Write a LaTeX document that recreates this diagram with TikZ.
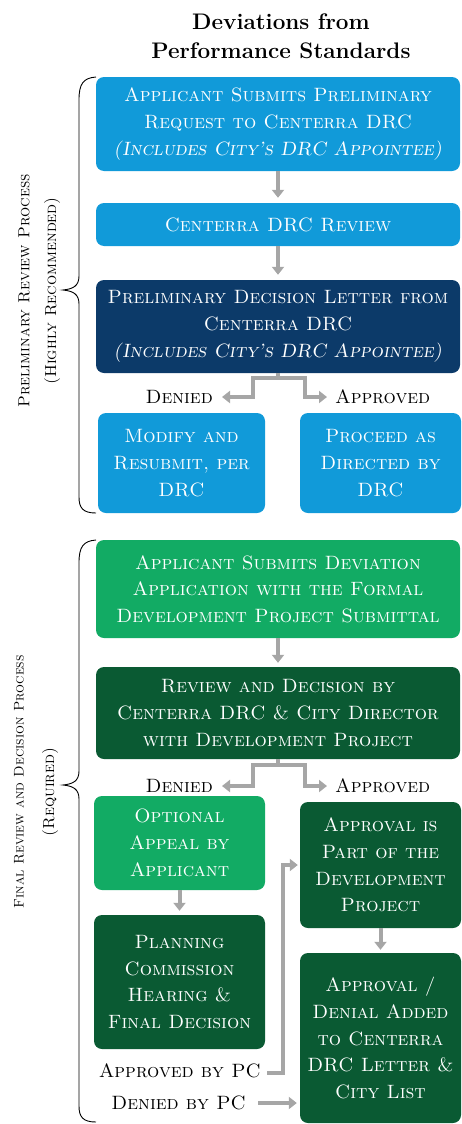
\documentclass[tikz,border=0pt]{standalone}
\usetikzlibrary{arrows.meta,calc}

\definecolor{skyblue}{HTML}{119AD9}
\definecolor{navyblue}{HTML}{0C3A69}
\definecolor{leafgreen}{HTML}{12AB64}
\definecolor{forestgreen}{HTML}{0A5A33}
\definecolor{linkgray}{HTML}{A6A6A6}

\newcommand\boxfont{\fontsize{19.3}{26.7}\selectfont\scshape}
\newcommand\notefont{\fontshape{scsl}\selectfont}

\tikzset{
  box/.style={rounded corners=8pt, text=white, align=center, inner sep=0pt, font=\boxfont},
  widebox/.style={box, minimum width=364pt},
  leftbox/.style={box, minimum width=171pt},
  rightbox/.style={box, minimum width=161pt},
  conn/.style={draw=linkgray, line width=4pt, -{Triangle[length=8pt,width=12pt]}},
  branchlabel/.style={inner sep=0pt, font=\boxfont},
  sidelabel/.style={rotate=90, inner sep=0pt},
  bracepen/.style={draw=black, line width=0.9pt},
}

\begin{document}
\begin{tikzpicture}[x=1pt,y=-1pt]
\useasboundingbox (0,0) rectangle (461,1124);

% title
\node[font=\fontsize{22.5}{29}\selectfont\bfseries, align=center] (title) at (281,36)
  {Deviations from\\Performance Standards};

% preliminary review process
\node[widebox, fill=skyblue, minimum height=94pt] (b1) at (278,124)
  {Applicant Submits Preliminary\\Request to Centerra DRC\\{\notefont(Includes City's DRC Appointee)}};
\node[widebox, fill=skyblue, minimum height=43pt] (b2) at (278,224.5)
  {Centerra DRC Review};
\node[widebox, fill=navyblue, minimum height=93pt] (b3) at (278,326.5)
  {Preliminary Decision Letter from\\Centerra DRC\\{\notefont(Includes City's DRC Appointee)}};
\node[box, minimum width=167pt, fill=skyblue, minimum height=100pt] (b4) at (181.5,463)
  {Modify and\\Resubmit, per\\DRC};
\node[rightbox, fill=skyblue, minimum height=100pt] (b5) at (380.5,463)
  {Proceed as\\Directed by\\DRC};

\node[branchlabel, anchor=east] (den1) at (213,397) {Denied};
\node[branchlabel, anchor=west] (app1) at (335,397) {Approved};

% final review and decision process
\node[widebox, fill=leafgreen, minimum height=98pt] (b6) at (278,589)
  {Applicant Submits Deviation\\Application with the Formal\\Development Project Submittal};
\node[widebox, fill=forestgreen, minimum height=92pt] (b7) at (278,713)
  {Review and Decision by\\Centerra DRC \& City Director\\with Development Project};
\node[leftbox, fill=leafgreen, minimum height=94pt] (b8) at (179.5,843)
  {Optional\\Appeal by\\Applicant};
\node[leftbox, fill=forestgreen, minimum height=134pt] (b9) at (179.5,982)
  {Planning\\Commission\\Hearing \&\\Final Decision};
\node[rightbox, fill=forestgreen, minimum height=126pt] (b10) at (380.5,865)
  {Approval is\\Part of the\\Development\\Project};
\node[rightbox, fill=forestgreen, minimum height=170pt] (b11) at (380.5,1038)
  {Approval /\\Denial Added\\to Centerra\\DRC Letter \&\\City List};

\node[branchlabel, anchor=east] (den2) at (213,786) {Denied};
\node[branchlabel, anchor=west] (app2) at (335,786) {Approved};
\node[branchlabel, anchor=east] (apc) at (261,1071) {Approved by PC};
\node[branchlabel, anchor=east] (dpc) at (246,1103) {Denied by PC};

% straight links
\draw[conn, shorten >=5pt] (b1.south) -- (b2.north);
\draw[conn, shorten >=5pt] (b2.south) -- (b3.north);
\draw[conn, shorten >=4pt] (b6.south) -- (b7.north);
\draw[conn, shorten >=4pt] (b8.south) -- (b9.north);
\draw[conn, shorten >=3pt] (b10.south) -- (b11.north);

% decision branches
\coordinate (s1l) at (253,397);
\coordinate (s1r) at (305,397);
\draw[conn, shorten >=9pt] (b3.south) -- ++(0,5) -| (s1l) -- (den1.east);
\draw[conn, shorten >=8pt] (b3.south) -- ++(0,5) -| (s1r) -- (app1.west);
\coordinate (s2l) at (253,786);
\coordinate (s2r) at (305,786);
\draw[conn, shorten >=9pt] (b7.south) -- ++(0,6) -| (s2l) -- (den2.east);
\draw[conn, shorten >=8pt] (b7.south) -- ++(0,6) -| (s2r) -- (app2.west);

% planning commission outcomes
\coordinate (pcturn) at (283,1073);
\draw[conn, shorten >=2pt] ($(apc.east)+(6,2)$) -- (pcturn) |- (b10.west);
\draw[conn, shorten >=3pt, shorten <=12pt] (dpc.east) -- (dpc.east -| b11.west);

% braces with section captions
\draw[bracepen] (96,77) .. controls (83,78) and (79,84) .. (79,100)
  -- (79,276) .. controls (79,286) and (73,289) .. (63,290)
  .. controls (73,291) and (79,294) .. (79,304)
  -- (79,497) .. controls (79,508) and (83,513) .. (96,513);
\draw[bracepen] (96,540) .. controls (83,541) and (79,547) .. (79,563)
  -- (79,771) .. controls (79,781) and (73,784) .. (63,785)
  .. controls (73,786) and (79,789) .. (79,799)
  -- (79,1106) .. controls (79,1117) and (83,1122) .. (96,1122);

\node[sidelabel, font=\fontsize{16}{20}\selectfont\scshape] (cap1a) at (24,291) {Preliminary Review Process};
\node[sidelabel, font=\fontsize{16}{20}\selectfont\scshape] (cap1b) at (52,291) {(Highly Recommended)};
\node[sidelabel, font=\fontsize{14}{20}\selectfont\scshape] (cap2a) at (19,782) {Final Review and Decision Process};
\node[sidelabel, font=\fontsize{16}{20}\selectfont\scshape] (cap2b) at (50,792) {(Required)};
\end{tikzpicture}
\end{document}
